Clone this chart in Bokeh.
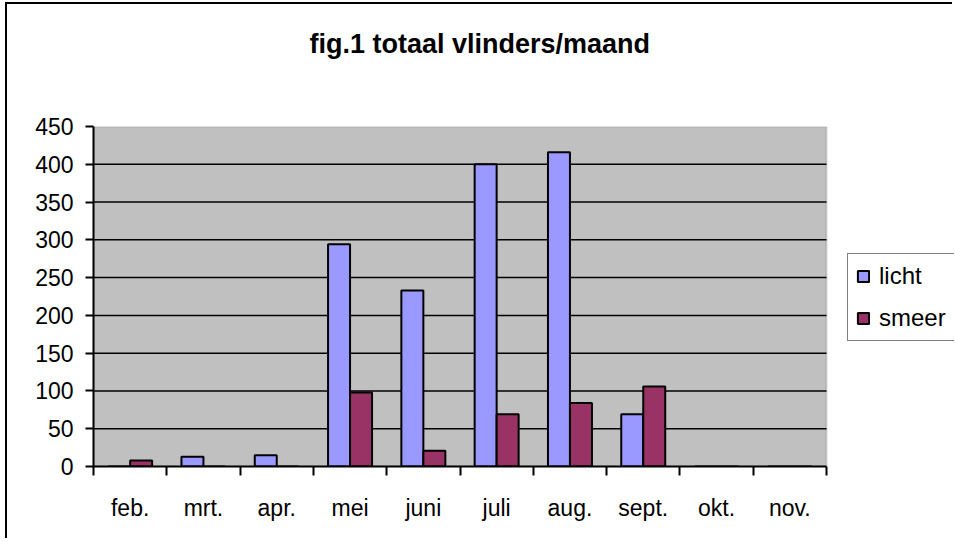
from bokeh.plotting import figure
from bokeh.models import (Range1d, FixedTicker, Legend, LegendItem, ColumnDataSource,
                          BoxAnnotation)
from bokeh.embed import file_html
from bokeh.resources import INLINE

# ---- data ----
months = ["feb.", "mrt.", "apr.", "mei", "juni", "juli", "aug.", "sept.", "okt.", "nov."]
licht = [0, 13, 15, 294, 233, 400, 416, 69, 0, 0]
smeer = [8, 0, 0, 98, 21, 69, 84, 106, 0, 0]
y_ticks = [0, 50, 100, 150, 200, 250, 300, 350, 400, 450]
title_text = "fig.1 totaal vlinders/maand"

FONT = "Liberation Sans"
BAR_W = 0.3

n = len(months)
centers = [i + 0.5 for i in range(n)]
src = ColumnDataSource(dict(
    month=months,
    x_licht=[c - BAR_W / 2 for c in centers],
    x_smeer=[c + BAR_W / 2 for c in centers],
    licht=licht,
    smeer=smeer,
))

# layout (pixels)
W, H = 947, 536
OX, OY = 8, 5
MB_LEFT, MB_TOP = 86, 122
MB_BOTTOM = OY + H - 467
PLOT_AREA_PX = 733          # width of the grey plot area
FRAME_W = W - MB_LEFT       # frame reaches the right edge (legend lives there)
x_end = n * FRAME_W / PLOT_AREA_PX

p = figure(width=W, height=H,
           x_range=Range1d(0, x_end), y_range=Range1d(y_ticks[0], y_ticks[-1]),
           output_backend="svg", toolbar_location=None,
           min_border_left=MB_LEFT, min_border_top=MB_TOP,
           min_border_right=0, min_border_bottom=MB_BOTTOM)
p.styles = {"border-left": "2px solid black", "border-top": "2px solid black",
            "margin-left": "5px", "margin-top": "2px"}

p.background_fill_color = "white"
p.border_fill_color = "white"
p.outline_line_color = None

# grey plot area with grey top/right border
area = BoxAnnotation(left=0, right=n, bottom=y_ticks[0], top=y_ticks[-1],
                     fill_color="#C0C0C0", fill_alpha=1,
                     line_color="#808080", line_width=2, level="underlay")
p.add_layout(area)

# title (trailing blank lines lift the visible line upward)
p.title.text = title_text + "\n\n"
p.title.text_font = FONT
p.title.text_font_size = "27px"
p.title.text_font_style = "bold"
p.title.text_color = "black"
p.title.align = "left"
p.title.offset = 216
p.title.standoff = 16

# horizontal gridlines across the plot area only
grid_y = y_ticks[1:-1]
p.segment(x0=0, x1=n, y0=grid_y, y1=grid_y, line_color="black", line_width=1.5)

# bars
r1 = p.vbar(x="x_licht", top="licht", width=BAR_W, source=src,
            fill_color="#9999FF", line_color="black", line_width=2)
r2 = p.vbar(x="x_smeer", top="smeer", width=BAR_W, source=src,
            fill_color="#993366", line_color="black", line_width=2)

p.xgrid.visible = False
p.ygrid.visible = False

# y axis
p.yaxis.ticker = FixedTicker(ticks=y_ticks)
p.yaxis.axis_line_color = "black"
p.yaxis.axis_line_width = 2
p.yaxis.major_tick_out = 8
p.yaxis.major_tick_in = 0
p.yaxis.major_tick_line_width = 2
p.yaxis.minor_tick_line_color = None
p.yaxis.major_label_text_font = FONT
p.yaxis.major_label_text_font_size = "23px"
p.yaxis.major_label_text_color = "black"
p.yaxis.major_label_standoff = 12

# x axis
p.xaxis.ticker = FixedTicker(ticks=centers, minor_ticks=list(range(n + 1)))
p.xaxis.major_label_overrides = {c: m for c, m in zip(centers, months)}
p.xaxis.bounds = (0, n)
p.xaxis.axis_line_color = "black"
p.xaxis.axis_line_width = 2
p.xaxis.major_tick_out = 0
p.xaxis.major_tick_in = 0
p.xaxis.minor_tick_out = 9
p.xaxis.minor_tick_in = 0
p.xaxis.minor_tick_line_color = "black"
p.xaxis.minor_tick_line_width = 2
p.xaxis.major_label_text_font = FONT
p.xaxis.major_label_text_font_size = "23px"
p.xaxis.major_label_text_color = "black"
p.xaxis.major_label_standoff = 19

# legend
legend = Legend(items=[LegendItem(label="licht", renderers=[r1]),
                       LegendItem(label="smeer", renderers=[r2])],
                location=(754, 125))
legend.glyph_width = 14
legend.glyph_height = 14
legend.label_standoff = 9
legend.label_text_font = FONT
legend.label_text_font_size = "24px"
legend.label_text_color = "black"
legend.border_line_color = "black"
legend.border_line_width = 1
legend.background_fill_color = "white"
legend.background_fill_alpha = 1
legend.padding = 8
legend.spacing = 14
legend.margin = 0
p.add_layout(legend)

open("out.html", "w").write(file_html(p, INLINE))
